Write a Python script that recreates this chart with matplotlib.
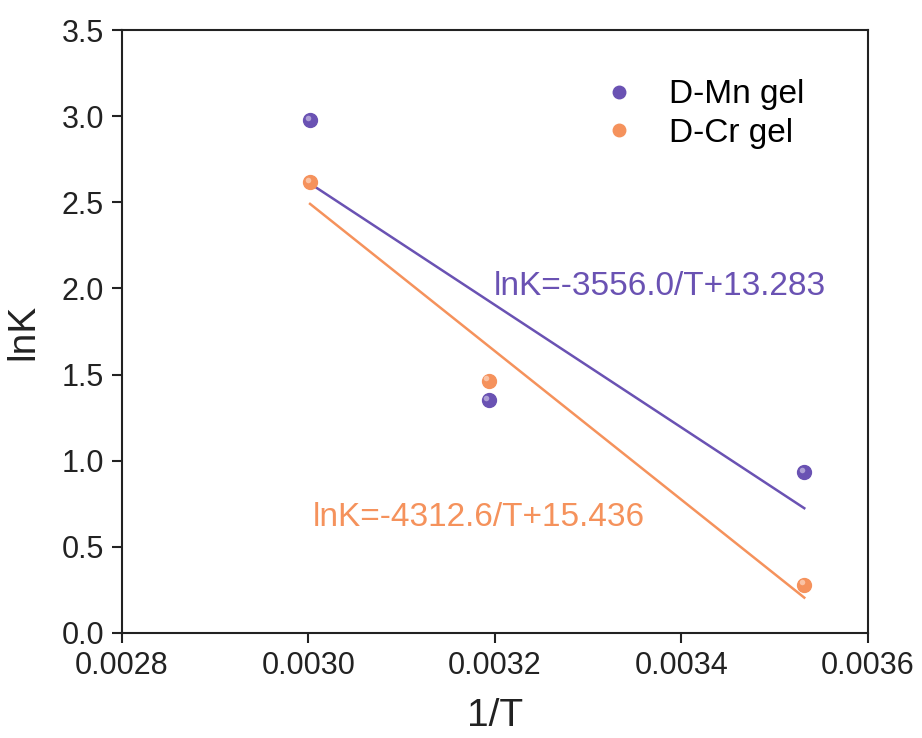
import numpy as np
import matplotlib
matplotlib.use('Agg')
import matplotlib.pyplot as plt
from matplotlib.transforms import offset_copy

plt.rcParams['font.family'] = ['Liberation Sans', 'DejaVu Sans']

# datos
inv_T = [0.0030017, 0.0031934, 0.0035317]
lnk_mn = [2.977, 1.352, 0.934]
lnk_cr = [2.617, 1.463, 0.279]

# ajustes lineales (pendiente, ordenada)
fit_mn = (-3556.0, 13.283)
fit_cr = (-4312.6, 15.436)

etiquetas = ['D-Mn gel', 'D-Cr gel']
ecuaciones = ['lnK=-3556.0/T+13.283', 'lnK=-4312.6/T+15.436']

c_mn = '#6a52b3'
c_cr = '#f5925c'

fig = plt.figure(figsize=(9.22, 7.38), dpi=100)
ax = fig.add_axes([0.1323, 0.1423, 0.8091, 0.817])

xs = np.array([inv_T[0], inv_T[-1]])

handles = []
for y, fit, col, lab in [(lnk_mn, fit_mn, c_mn, etiquetas[0]), (lnk_cr, fit_cr, c_cr, etiquetas[1])]:
    ax.plot(xs, fit[0] * xs + fit[1], color=col, lw=1.8, zorder=2)
    h1, = ax.plot(inv_T, y, 'o', ms=10, color=col, mec=col, zorder=3)
    # brillo de la esfera
    tr = offset_copy(ax.transData, fig=fig, x=-1.8, y=1.8, units='points')
    ax.plot(inv_T, y, 'o', ms=4, color='white', alpha=0.45, mec='none', transform=tr, zorder=4)
    handles.append(h1)

ax.text(0.003199, 1.96, ecuaciones[0], color=c_mn, fontsize=24)
ax.text(0.003005, 0.62, ecuaciones[1], color=c_cr, fontsize=24)

ax.legend(handles, etiquetas, loc='upper right', bbox_to_anchor=(0.955, 0.968), frameon=False,
          fontsize=24, handletextpad=0.9, labelspacing=0.22, markerscale=0.9, handlelength=1.2)

ax.set_xlim(0.0028, 0.0036)
ax.set_ylim(0, 3.5)
ax.set_xticks(np.arange(0.0028, 0.00361, 0.0002))
ax.set_xticklabels([f'{v:.4f}' for v in np.arange(0.0028, 0.00361, 0.0002)])
ax.set_yticks(np.arange(0, 3.51, 0.5))
ax.set_yticklabels([f'{v:.1f}' for v in np.arange(0, 3.51, 0.5)])
ax.tick_params(direction='out', length=7, width=1.5, labelsize=22, pad=6, color='#222222', labelcolor='#222222')
for s in ax.spines.values():
    s.set_linewidth(1.5)
    s.set_color('#222222')

ax.set_xlabel('1/T', fontsize=28, labelpad=12, color='#222222')
ax.set_ylabel('lnK', fontsize=28, labelpad=14, color='#222222')

fig.savefig('out.png', dpi=100)
